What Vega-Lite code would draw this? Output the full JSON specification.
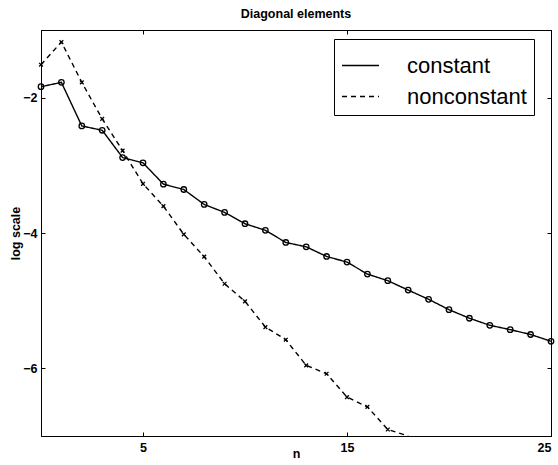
{
  "$schema": "https://vega.github.io/schema/vega-lite/v6.json",
  "width": 510,
  "height": 406,
  "autosize": {"type": "none"},
  "padding": {"left": 41, "top": 30, "right": 7, "bottom": 29},
  "background": "white",
  "title": {"text": "Diagonal elements", "font": "Liberation Sans", "fontSize": 12.5, "fontWeight": "bold", "color": "black", "offset": 9, "anchor": "middle"},
  "config": {
    "view": {"stroke": "black", "strokeWidth": 1},
    "axis": {"domain": true, "domainColor": "black", "domainWidth": 1, "zindex": 1, "tickColor": "black", "tickWidth": 1, "tickSize": -4, "grid": false, "labelFont": "Liberation Sans", "labelFontSize": 12.5, "labelFontWeight": "bold", "labelColor": "black", "titleFont": "Liberation Sans", "titleFontSize": 12.5, "titleFontWeight": "bold", "titleColor": "black"},
    "legend": {"orient": "none", "legendX": 293, "legendY": 9, "fillColor": "white", "strokeColor": "black", "padding": 7, "rowPadding": -8, "labelFont": "Liberation Sans", "labelFontSize": 22, "labelColor": "black", "labelOffset": 27, "symbolType": "stroke", "symbolStrokeWidth": 1.3, "symbolStrokeColor": "black", "symbolSize": 1369, "symbolOpacity": 1, "title": null}
  },
  "data": {"values": [
    {"n": 0, "v": -1.838, "series": "constant"},
    {"n": 1, "v": -1.774, "series": "constant"},
    {"n": 2, "v": -2.418, "series": "constant"},
    {"n": 3, "v": -2.482, "series": "constant"},
    {"n": 4, "v": -2.885, "series": "constant"},
    {"n": 5, "v": -2.963, "series": "constant"},
    {"n": 6, "v": -3.278, "series": "constant"},
    {"n": 7, "v": -3.357, "series": "constant"},
    {"n": 8, "v": -3.578, "series": "constant"},
    {"n": 9, "v": -3.696, "series": "constant"},
    {"n": 10, "v": -3.863, "series": "constant"},
    {"n": 11, "v": -3.96, "series": "constant"},
    {"n": 12, "v": -4.14, "series": "constant"},
    {"n": 13, "v": -4.204, "series": "constant"},
    {"n": 14, "v": -4.347, "series": "constant"},
    {"n": 15, "v": -4.43, "series": "constant"},
    {"n": 16, "v": -4.607, "series": "constant"},
    {"n": 17, "v": -4.705, "series": "constant"},
    {"n": 18, "v": -4.844, "series": "constant"},
    {"n": 19, "v": -4.98, "series": "constant"},
    {"n": 20, "v": -5.133, "series": "constant"},
    {"n": 21, "v": -5.26, "series": "constant"},
    {"n": 22, "v": -5.364, "series": "constant"},
    {"n": 23, "v": -5.428, "series": "constant"},
    {"n": 24, "v": -5.5, "series": "constant"},
    {"n": 25, "v": -5.6, "series": "constant"},
    {"n": 0, "v": -1.513, "series": "nonconstant"},
    {"n": 1, "v": -1.178, "series": "nonconstant"},
    {"n": 2, "v": -1.774, "series": "nonconstant"},
    {"n": 3, "v": -2.314, "series": "nonconstant"},
    {"n": 4, "v": -2.782, "series": "nonconstant"},
    {"n": 5, "v": -3.273, "series": "nonconstant"},
    {"n": 6, "v": -3.604, "series": "nonconstant"},
    {"n": 7, "v": -4.02, "series": "nonconstant"},
    {"n": 8, "v": -4.35, "series": "nonconstant"},
    {"n": 9, "v": -4.75, "series": "nonconstant"},
    {"n": 10, "v": -5.01, "series": "nonconstant"},
    {"n": 11, "v": -5.39, "series": "nonconstant"},
    {"n": 12, "v": -5.577, "series": "nonconstant"},
    {"n": 13, "v": -5.956, "series": "nonconstant"},
    {"n": 14, "v": -6.08, "series": "nonconstant"},
    {"n": 15, "v": -6.425, "series": "nonconstant"},
    {"n": 16, "v": -6.57, "series": "nonconstant"},
    {"n": 17, "v": -6.904, "series": "nonconstant"},
    {"n": 18, "v": -7.03, "series": "nonconstant"}
  ]},
  "resolve": {"axis": {"x": "independent", "y": "independent"}},
  "layer": [
    {
      "mark": {"type": "line", "color": "black", "strokeWidth": 1.4},
      "encoding": {
        "x": {"field": "n", "type": "quantitative", "scale": {"domain": [0, 25], "nice": false, "zero": false}, "axis": {"orient": "bottom", "values": [5, 15, 25], "title": "n", "labelPadding": 9, "titleY": 21, "titleBaseline": "alphabetic"}},
        "y": {"field": "v", "type": "quantitative", "scale": {"domain": [-7, -1], "nice": false, "zero": false, "clamp": true}, "axis": {"orient": "left", "values": [-2, -4, -6], "title": "log scale", "labelPadding": 8, "titleX": -22, "titleBaseline": "alphabetic"}},
        "strokeDash": {"field": "series", "type": "nominal", "scale": {"domain": ["constant", "nonconstant"], "range": [[1, 0], [5, 4]]}}
      }
    },
    {
      "transform": [{"filter": "datum.series === 'constant'"}],
      "mark": {"type": "point", "shape": "circle", "size": 30, "stroke": "black", "strokeWidth": 1.3, "filled": false, "opacity": 1},
      "encoding": {
        "x": {"field": "n", "type": "quantitative", "axis": null},
        "y": {"field": "v", "type": "quantitative", "axis": null}
      }
    },
    {
      "transform": [{"filter": "datum.series === 'nonconstant' && datum.v >= -7"}],
      "mark": {"type": "point", "shape": "M-1,-1L1,1M-1,1L1,-1", "size": 14, "stroke": "black", "strokeWidth": 1.3, "filled": false, "opacity": 1},
      "encoding": {
        "x": {"field": "n", "type": "quantitative", "axis": null},
        "y": {"field": "v", "type": "quantitative", "axis": null}
      }
    },
    {
      "mark": {"type": "point", "opacity": 0},
      "encoding": {
        "x": {"field": "n", "type": "quantitative", "axis": {"orient": "top", "values": [5, 15, 25], "labels": false, "title": null}},
        "y": {"field": "v", "type": "quantitative", "axis": {"orient": "right", "values": [-2, -4, -6], "labels": false, "title": null}}
      }
    }
  ]
}
